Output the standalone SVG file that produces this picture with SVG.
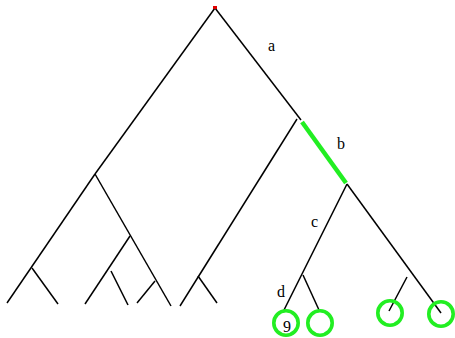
<svg xmlns="http://www.w3.org/2000/svg" width="455" height="338" viewBox="0 0 455 338">
<style>
.e{stroke:#000;stroke-width:1.5;fill:none;stroke-linecap:butt}
.g{stroke:#22ee22;stroke-width:4.5;fill:none}
.c{stroke:#22ee22;stroke-width:3.6;fill:none}
.t{font-family:"Liberation Serif",serif;font-size:16px;fill:#000}
</style>
<rect width="455" height="338" fill="#fff"/>
<g id="connectors">
<line class="e" x1="215" y1="8" x2="95" y2="174"/>
<line class="e" x1="215" y1="8" x2="301" y2="120"/>
<line class="e" x1="95" y1="174" x2="7" y2="303"/>
<line class="e" x1="32" y1="268" x2="58" y2="304"/>
<line class="e" x1="95" y1="174" x2="171" y2="306"/>
<line class="e" x1="130" y1="236" x2="85" y2="304"/>
<line class="e" x1="111" y1="271" x2="128" y2="305"/>
<line class="e" x1="155" y1="281" x2="137" y2="303"/>
<line class="e" x1="297" y1="119" x2="180" y2="306"/>
<line class="e" x1="198" y1="276" x2="217" y2="303"/>
<line class="g" x1="302" y1="122" x2="346" y2="183"/>
<line class="e" x1="347" y1="184" x2="284" y2="310"/>
<line class="e" x1="303" y1="275" x2="319" y2="310"/>
<line class="e" x1="347" y1="184" x2="441" y2="313"/>
<line class="e" x1="407" y1="277" x2="389" y2="311"/>
</g>
<g id="root"><rect x="213" y="6" width="4" height="3" fill="#e00000"/></g>
<g id="leaf1"><circle class="c" cx="286" cy="323" r="12.2"/><text class="t" x="283" y="332">9</text></g>
<g id="leaf2"><circle class="c" cx="320" cy="323" r="12.2"/></g>
<g id="leaf3"><circle class="c" cx="390" cy="313" r="12.2"/></g>
<g id="leaf4"><circle class="c" cx="441" cy="314" r="12.2"/></g>
<g id="labels">
<text class="t" x="268" y="51">a</text>
<text class="t" x="337" y="149">b</text>
<text class="t" x="311" y="227">c</text>
<text class="t" x="277" y="297">d</text>
</g>
</svg>
